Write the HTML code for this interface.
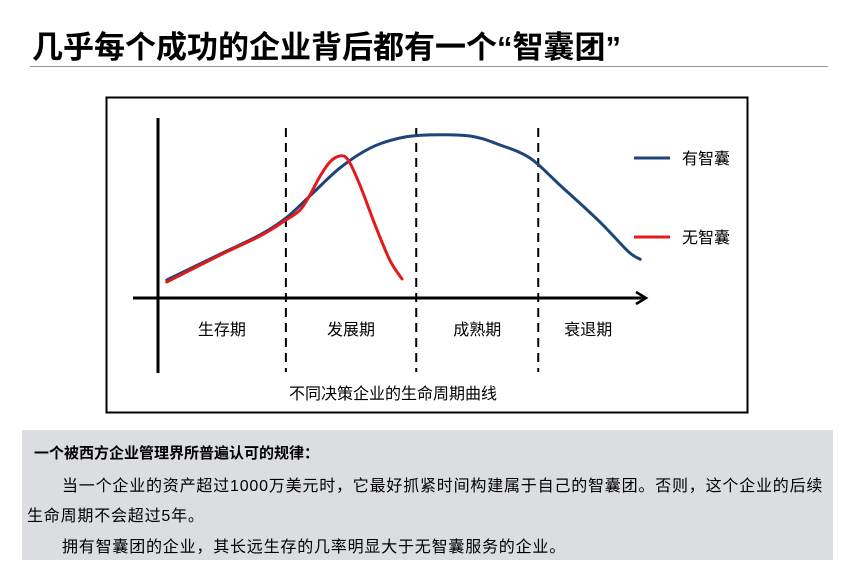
<!DOCTYPE html>
<html><head><meta charset="utf-8">
<style>
body{margin:0;background:#fff;width:853px;height:586px;position:relative;overflow:hidden;font-family:"Liberation Sans","Noto Sans CJK SC",sans-serif;}
.abs{position:absolute;white-space:nowrap;}
</style></head><body>
<div class="abs" style="left:32px;top:29px;font-size:31px;line-height:38px;font-weight:bold;color:#000;">几乎每个成功的企业背后都有一个“智囊团”</div>
<div class="abs" style="left:30px;top:66px;width:798px;height:1px;background:#999;"></div>

<svg class="abs" style="left:0;top:0" width="853" height="430" font-family="Liberation Sans, Noto Sans CJK SC, sans-serif">
  <rect x="106.5" y="97.5" width="641" height="315" fill="#fff" stroke="#000" stroke-width="2"/>
  <g id="marks"></g>
  <text x="393" y="399" font-size="16" text-anchor="middle" fill="#000">不同决策企业的生命周期曲线</text>
</svg>

<div class="abs" style="left:22px;top:430px;width:811px;height:130px;background:#dcdde0;"></div>
<div class="abs" style="left:34px;top:442px;font-size:15px;font-weight:bold;">一个被西方企业管理界所普遍认可的规律：</div>
<div class="abs" style="left:62px;top:472px;font-size:16px;letter-spacing:0.8px;">当一个企业的资产超过1000万美元时，它最好抓紧时间构建属于自己的智囊团。否则，这个企业的后续</div>
<div class="abs" style="left:27px;top:502px;font-size:16px;letter-spacing:0.8px;">生命周期不会超过5年。</div>
<div class="abs" style="left:62px;top:533px;font-size:16px;letter-spacing:0.8px;">拥有智囊团的企业，其长远生存的几率明显大于无智囊服务的企业。</div>

<script>
const stageLabels=["生存期","发展期","成熟期","衰退期"];
const stageBounds=[26.1,52.7,77.6];
const withT=[1.8,12.7,20.8,26.1,31,37.1,43.3,49.4,55.5,63.7,69.8,75.9,82,90.2,95.9,98.4];
const withV=[10,24.4,35,44.4,56.7,72.2,83.3,88.9,90.6,90,85,77.8,62.8,42.2,26,21.5];
const withoutT=[1.8,12.7,20.8,26.1,29,31,33.1,35.1,37.1,38.8,41.2,44.3,47.3,49.8];
const withoutV=[8.9,23.9,34.4,43.3,48.9,57.2,67.8,75.6,78.9,76.7,62.8,40.6,21.1,10.6];
const legendLabels=["有智囊","无智囊"];

const NS="http://www.w3.org/2000/svg";
const g=document.getElementById('marks');
const X0=158,XS=4.9,Y0=298,YS=1.8;
const x=t=>X0+t*XS, y=v=>Y0-v*YS;
function mk(tag,attrs){const e=document.createElementNS(NS,tag);for(const k in attrs)e.setAttribute(k,attrs[k]);g.appendChild(e);return e;}
function smooth(ts,vs){
  const p=ts.map((t,i)=>[x(t),y(vs[i])]);
  let d="M"+p[0][0]+","+p[0][1];
  for(let i=0;i<p.length-1;i++){
    const p0=p[Math.max(0,i-1)],p1=p[i],p2=p[i+1],p3=p[Math.min(p.length-1,i+2)];
    const c1=[p1[0]+(p2[0]-p0[0])/6,p1[1]+(p2[1]-p0[1])/6];
    const c2=[p2[0]-(p3[0]-p1[0])/6,p2[1]-(p3[1]-p1[1])/6];
    d+=" C"+c1+" "+c2+" "+p2;
  }
  return d;
}
let e=mk('line',{x1:X0,y1:118,x2:X0,y2:373,stroke:'#000','stroke-width':3});


e=mk('line',{x1:133,y1:Y0,x2:645,y2:Y0,stroke:'#000','stroke-width':3});


e=mk('polyline',{points:"636,292 646,298 636,304",fill:'none',stroke:'#000','stroke-width':2.5});


stageBounds.forEach((b,i)=>{
  const l=mk('line',{x1:x(b),y1:128,x2:x(b),y2:372,stroke:'#000','stroke-width':2,'stroke-dasharray':'9,6'});
  
  
});
const edges=[0,...stageBounds,98];
stageLabels.forEach((s,i)=>{
  const t=mk('text',{x:(x(edges[i])+x(edges[i+1]))/2,y:335,'font-size':16,'text-anchor':'middle',fill:'#000'});
  t.textContent=s;
  
  
});
e=mk('path',{d:smooth(withT,withV),fill:'none',stroke:'#1f4478','stroke-width':3,'stroke-linecap':'round'});


e=mk('path',{d:smooth(withoutT,withoutV),fill:'none',stroke:'#e31a1c','stroke-width':3,'stroke-linecap':'round'});


const lc=['#1f4478','#e31a1c'],ly=[158,237];
legendLabels.forEach((s,i)=>{
  const l=mk('line',{x1:634,y1:ly[i],x2:670,y2:ly[i],stroke:lc[i],'stroke-width':3});
  
  
  const t=mk('text',{x:682,y:ly[i]+6,'font-size':16,fill:'#000'});
  t.textContent=s;
  
  
});
</script>
</body></html>
